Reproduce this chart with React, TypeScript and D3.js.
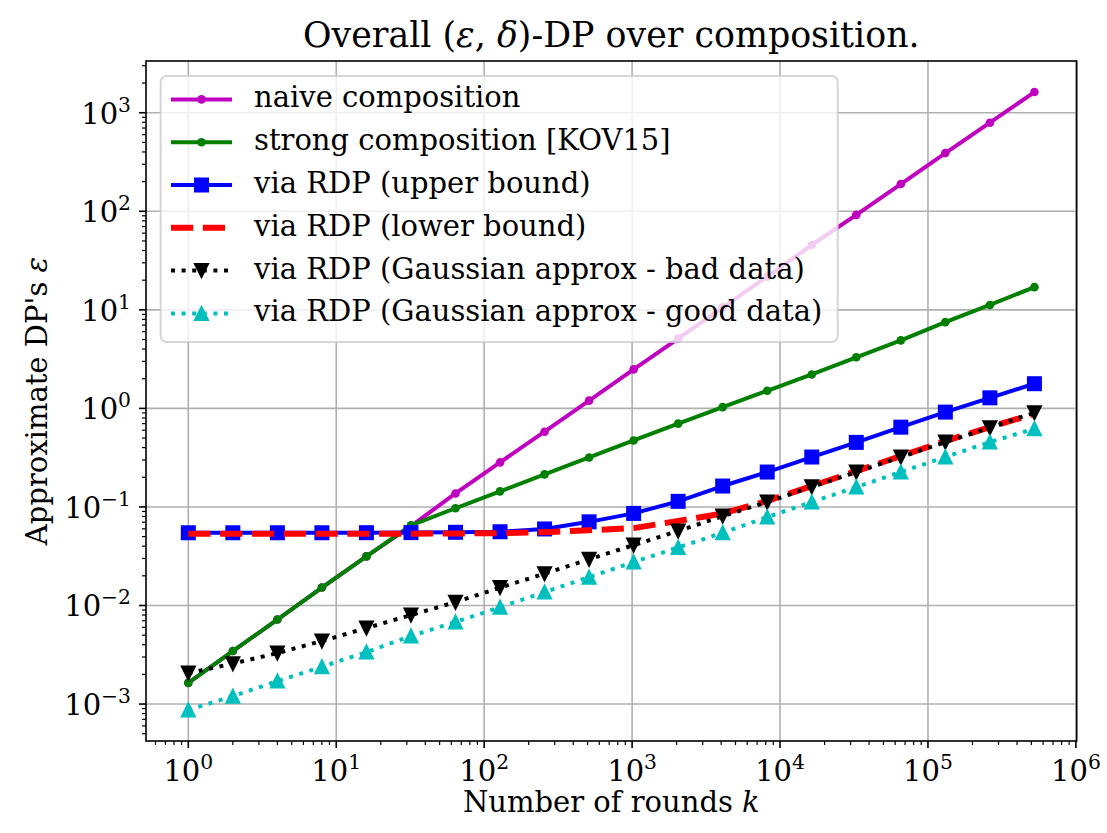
import React from "react";
import * as d3 from "d3";

// number of rounds k (powers of two)
const rounds = [1, 2, 4, 8, 16, 32, 64, 128, 256, 512, 1024, 2048, 4096, 8192, 16384, 32768, 65536, 131072, 262144, 524288];

// epsilon values
const naive = [0.00164, 0.00345, 0.0072, 0.0152, 0.0315, 0.064, 0.137, 0.283, 0.58, 1.2, 2.49, 5.1, 10.6, 21.7, 45.5, 92, 189, 390, 792, 1622];
const strong = [0.00164, 0.00345, 0.0072, 0.0152, 0.0315, 0.065, 0.097, 0.144, 0.214, 0.318, 0.473, 0.70, 1.03, 1.51, 2.21, 3.3, 4.9, 7.5, 11.2, 17.0];
const rdpUpper = [0.0547, 0.0547, 0.0547, 0.0547, 0.0548, 0.0549, 0.0553, 0.056, 0.0598, 0.0706, 0.086, 0.114, 0.163, 0.226, 0.321, 0.452, 0.645, 0.917, 1.28, 1.78];
const rdpLower = [0.0535, 0.0535, 0.0535, 0.0535, 0.0535, 0.0536, 0.0538, 0.0542, 0.0555, 0.058, 0.061, 0.072, 0.086, 0.115, 0.163, 0.231, 0.328, 0.466, 0.646, 0.88];
const gaussBad = [0.00206, 0.00257, 0.00329, 0.00436, 0.0059, 0.008, 0.0108, 0.0152, 0.021, 0.0294, 0.041, 0.057, 0.0807, 0.112, 0.160, 0.226, 0.321, 0.455, 0.637, 0.904];
const gaussGood = [0.00087, 0.0012, 0.00171, 0.00239, 0.00337, 0.0049, 0.0068, 0.0096, 0.0137, 0.0194, 0.0276, 0.0388, 0.0547, 0.0789, 0.112, 0.159, 0.226, 0.321, 0.455, 0.622];

const xTickExps = [0, 1, 2, 3, 4, 5, 6];
const yTickExps = [-3, -2, -1, 0, 1, 2, 3];

const series = [
  { label: "naive composition", values: naive, color: "#bf00bf", width: 4, dash: null, marker: "dot" },
  { label: "strong composition [KOV15]", values: strong, color: "#008000", width: 4, dash: null, marker: "dot" },
  { label: "via RDP (upper bound)", values: rdpUpper, color: "#0000ff", width: 4, dash: null, marker: "square" },
  { label: "via RDP (lower bound)", values: rdpLower, color: "#ff0000", width: 6, dash: "22.2 9.6", marker: null },
  { label: "via RDP (Gaussian approx - bad data)", values: gaussBad, color: "#000000", width: 4, dash: "4 6.6", marker: "down" },
  { label: "via RDP (Gaussian approx - good data)", values: gaussGood, color: "#00bfbf", width: 4, dash: "4 6.6", marker: "up" },
];

const W = 1107, H = 833;
const left = 146, right = 1076.7, top = 61, bottom = 741;
const FONT = "DejaVu Serif, Liberation Serif, serif";
const fs = 29;
const tstyle = { fontFamily: FONT };

const supDigits = (e) => (e < 0 ? "\u2212" + Math.abs(e) : String(e));

function Marker({ kind, x, y, color }) {
  if (kind === "dot") return <circle cx={x} cy={y} r={4.3} fill={color} />;
  if (kind === "square") return <rect x={x - 7.5} y={y - 7.5} width={15} height={15} fill={color} />;
  if (kind === "down")
    return <path d={`M${x},${y + 6.5}L${x - 6.5},${y - 6.5}L${x + 6.5},${y - 6.5}Z`} fill={color} stroke={color} strokeWidth={2} />;
  if (kind === "up")
    return <path d={`M${x},${y - 6.5}L${x - 6.5},${y + 6.5}L${x + 6.5},${y + 6.5}Z`} fill={color} stroke={color} strokeWidth={2} />;
  return null;
}

export default function App() {
  const x = d3.scaleLog().domain([Math.pow(10, -0.286), Math.pow(10, 6.0054)]).range([left, right]);
  const y = d3.scaleLog().domain([Math.pow(10, -3.375), Math.pow(10, 3.525)]).range([bottom, top]);

  const line = d3.line<number>().x((d, i) => x(rounds[i])).y((d) => y(d));

  const xMinor = [];
  for (let e = -1; e <= 6; e++) for (let m = 2; m <= 9; m++) {
    const v = m * Math.pow(10, e);
    if (v >= x.domain()[0] && v <= x.domain()[1]) xMinor.push(v);
  }
  const yMinor = [];
  for (let e = -4; e <= 3; e++) for (let m = 2; m <= 9; m++) {
    const v = m * Math.pow(10, e);
    if (v >= y.domain()[0] && v <= y.domain()[1]) yMinor.push(v);
  }

  const legX = 160.7, legY = 76, legW = 677, legH = 266;
  const rowY0 = 99.4, rowStep = 42.8;

  return (
    <svg width={W} height={H} style={{ position: "absolute", left: 0, top: 0, background: "#fff" }}>
      <rect x={0} y={0} width={W} height={H} fill="#fff" />
      <defs>
        <clipPath id="plotClip">
          <rect x={left} y={top} width={right - left} height={bottom - top} />
        </clipPath>
      </defs>

      {/* grid */}
      <g stroke="#b0b0b0" strokeWidth={1.6}>
        {xTickExps.map((e) => (
          <line key={"gx" + e} x1={x(Math.pow(10, e))} x2={x(Math.pow(10, e))} y1={top} y2={bottom} />
        ))}
        {yTickExps.map((e) => (
          <line key={"gy" + e} x1={left} x2={right} y1={y(Math.pow(10, e))} y2={y(Math.pow(10, e))} />
        ))}
      </g>

      {/* series */}
      <g clipPath="url(#plotClip)">
        {series.map((s) => (
          <g key={s.label}>
            <path d={line(s.values)} fill="none" stroke={s.color} strokeWidth={s.width}
              strokeDasharray={s.dash || undefined} strokeLinejoin="round" />
            {s.marker && s.values.map((v, i) => (
              <Marker key={i} kind={s.marker} x={x(rounds[i])} y={y(v)} color={s.color} />
            ))}
          </g>
        ))}
      </g>

      {/* spines */}
      <rect x={left} y={top} width={right - left} height={bottom - top} fill="none" stroke="#000" strokeWidth={1.6} />

      {/* ticks */}
      <g stroke="#000">
        {xTickExps.map((e) => (
          <line key={"tx" + e} x1={x(Math.pow(10, e))} x2={x(Math.pow(10, e))} y1={bottom} y2={bottom + 7} strokeWidth={1.6} />
        ))}
        {xMinor.map((v, i) => (
          <line key={"mx" + i} x1={x(v)} x2={x(v)} y1={bottom} y2={bottom + 4} strokeWidth={1.2} />
        ))}
        {yTickExps.map((e) => (
          <line key={"ty" + e} x1={left - 7} x2={left} y1={y(Math.pow(10, e))} y2={y(Math.pow(10, e))} strokeWidth={1.6} />
        ))}
        {yMinor.map((v, i) => (
          <line key={"my" + i} x1={left - 4} x2={left} y1={y(v)} y2={y(v)} strokeWidth={1.2} />
        ))}
      </g>

      {/* tick labels */}
      {xTickExps.map((e) => (
        <text key={"lx" + e} x={x(Math.pow(10, e))} y={781} textAnchor="middle" fontSize={fs} style={tstyle}>
          10<tspan fontSize={fs * 0.7} dy={-12}>{supDigits(e)}</tspan>
        </text>
      ))}
      {yTickExps.map((e) => (
        <text key={"ly" + e} x={131} y={y(Math.pow(10, e)) + 11} textAnchor="end" fontSize={fs} style={tstyle}>
          10<tspan fontSize={fs * 0.7} dy={-12}>{supDigits(e)}</tspan>
        </text>
      ))}

      {/* axis labels and title */}
      <text x={(left + right) / 2} y={812} fontSize={fs} textAnchor="middle" style={tstyle}>
        Number of rounds <tspan fontStyle="italic">k</tspan>
      </text>
      <text transform={`translate(47,${(top + bottom) / 2}) rotate(-90)`} fontSize={fs} textAnchor="middle" style={tstyle}>
        Approximate DP's <tspan fontStyle="italic">ε</tspan>
      </text>
      <text x={(left + right) / 2} y={47} fontSize={fs * 1.2} textAnchor="middle" style={tstyle}>
        Overall (<tspan fontStyle="italic">ε</tspan>, <tspan fontStyle="italic">δ</tspan>)-DP over composition.
      </text>

      {/* legend */}
      <rect x={legX} y={legY} width={legW} height={legH} rx={6} fill="#fff" fillOpacity={0.8} stroke="#cccccc" strokeOpacity={0.8} strokeWidth={2} />
      {series.map((s, i) => {
        const cy = rowY0 + i * rowStep;
        return (
          <g key={"leg" + i}>
            <line x1={171} x2={232} y1={cy} y2={cy} stroke={s.color} strokeWidth={s.width} strokeDasharray={s.dash || undefined} />
            {s.marker && <Marker kind={s.marker} x={201.5} y={cy} color={s.color} />}
            <text x={254} y={cy + 8} fontSize={fs} style={tstyle}>{s.label}</text>
          </g>
        );
      })}
    </svg>
  );
}
